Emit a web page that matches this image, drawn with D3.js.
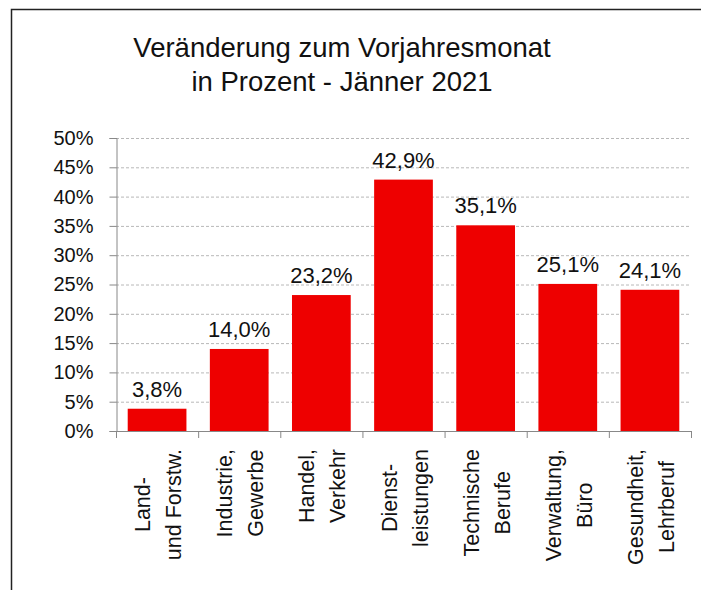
<!DOCTYPE html>
<html lang="de">
<head>
<meta charset="UTF-8">
<title>Veränderung zum Vorjahresmonat</title>
<script src="https://d3js.org/d3.v7.min.js"></script>
<style>
body { margin: 0; background: #fff; }
svg text { font-family: "Liberation Sans", Arial, sans-serif; fill: #111; }
</style>
</head>
<body>
<svg id="chart" width="701" height="590"></svg>
<script>
// data
var categories = [
  ["Land-", "und Forstw."],
  ["Industrie,", "Gewerbe"],
  ["Handel,", "Verkehr"],
  ["Dienst-", "leistungen"],
  ["Technische", "Berufe"],
  ["Verwaltung,", "Büro"],
  ["Gesundheit,", "Lehrberuf"]
]
var values = [3.8, 14.0, 23.2, 42.9, 35.1, 25.1, 24.1]
var yTicks = [0, 5, 10, 15, 20, 25, 30, 35, 40, 45, 50]
var titleLines = ["Veränderung zum Vorjahresmonat", "in Prozent - Jänner 2021"]

var svg = d3.select("#chart")
var plotLeft = 116, plotRight = 691, plotTop = 138, plotBottom = 431

// frame of the chart area
svg.append("path")
  .attr("d", "M11.5,590 V9.5 H701")
  .attr("fill", "none")
  .attr("stroke", "#222")
  .attr("stroke-width", 1.5)

// title
svg.selectAll(".title")
  .data(titleLines)
  .enter().append("text")
  .attr("class", "title")
  .attr("x", 342)
  .attr("y", function(d, i) { return 57 + i * 34 })
  .attr("text-anchor", "middle")
  .style("font-size", "27.5px")
  .text(function(d) { return d })

var x = d3.scaleBand()
  .domain(d3.range(categories.length))
  .range([plotLeft, plotRight])
  .paddingInner(0.285)
  .paddingOuter(0.1425)

var y = d3.scaleLinear().domain([0, 50]).range([plotBottom, plotTop])

// gridlines
svg.append("g")
  .selectAll("line")
  .data(yTicks.filter(function(t) { return t > 0 }))
  .enter().append("line")
  .attr("x1", plotLeft).attr("x2", plotRight)
  .attr("y1", function(d) { return y(d) + 0.5 })
  .attr("y2", function(d) { return y(d) + 0.5 })
  .attr("stroke", "#b8b8b8")
  .attr("stroke-dasharray", "3,2")

// y axis
var yAxis = svg.append("g")
  .attr("transform", "translate(" + (plotLeft + 0.5) + ",0)")
  .call(d3.axisLeft(y).tickValues(yTicks).tickSize(7).tickPadding(16)
    .tickFormat(function(d) { return d + "%" }))
yAxis.select(".domain").attr("stroke", "#888")
yAxis.selectAll(".tick line").attr("stroke", "#888")
yAxis.selectAll(".tick text")
  .style("font-size", "20px")
  .style("font-family", "'Liberation Sans', Arial, sans-serif")
  .attr("fill", "#111")

// bars
svg.append("g")
  .selectAll("rect")
  .data(values)
  .enter().append("rect")
  .attr("x", function(d, i) { return x(i) })
  .attr("y", function(d) { return y(d) })
  .attr("width", x.bandwidth())
  .attr("height", function(d) { return y(0) - y(d) })
  .attr("fill", "#ee0000")

// value labels
svg.append("g")
  .selectAll("text")
  .data(values)
  .enter().append("text")
  .attr("x", function(d, i) { return x(i) + x.bandwidth() / 2 })
  .attr("y", function(d) { return y(d) - 12 })
  .attr("text-anchor", "middle")
  .style("font-size", "22px")
  .text(function(d) { return d.toFixed(1).replace(".", ",") + "%" })

// x axis line and ticks
var step = x.step()
svg.append("line")
  .attr("x1", plotLeft).attr("x2", plotRight)
  .attr("y1", plotBottom + 0.5).attr("y2", plotBottom + 0.5)
  .attr("stroke", "#888")
svg.append("g")
  .selectAll("line")
  .data(d3.range(categories.length + 1))
  .enter().append("line")
  .attr("x1", function(d) { return plotLeft + d * step + 0.5 })
  .attr("x2", function(d) { return plotLeft + d * step + 0.5 })
  .attr("y1", plotBottom).attr("y2", plotBottom + 7)
  .attr("stroke", "#888")

// rotated category labels, longest line starting near the axis
var labelTop = 449
categories.forEach(function(lines, i) {
  var cx = x(i) + x.bandwidth() / 2
  var g = svg.append("g")
  var texts = lines.map(function(line) {
    return g.append("text")
      .attr("text-anchor", "middle")
      .style("font-size", "21.5px")
      .text(line)
  })
  var maxLen = d3.max(texts, function(t) { return t.node().getComputedTextLength() })
  var mid = labelTop + maxLen / 2
  texts.forEach(function(t, j) {
    var bx = cx - 7 + j * 31
    t.attr("transform", "translate(" + bx + "," + mid + ") rotate(-90)")
  })
})
</script>
</body>
</html>
